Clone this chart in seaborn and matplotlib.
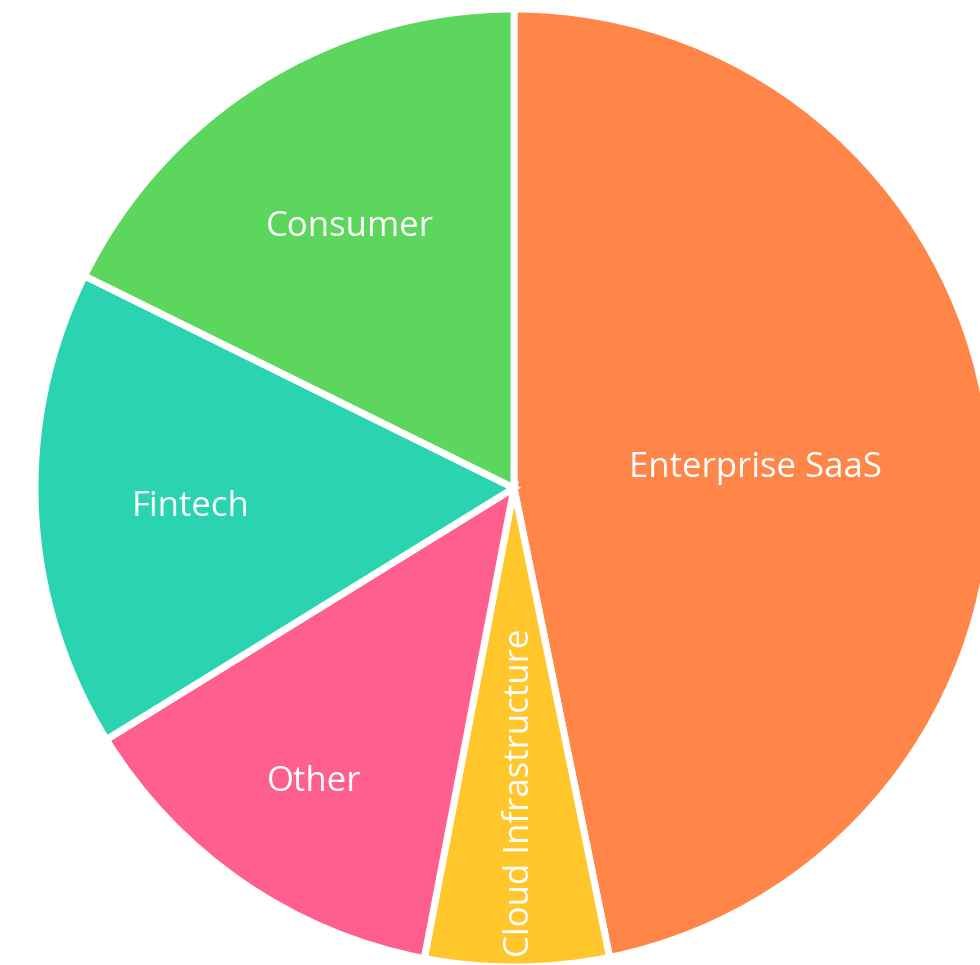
import numpy as np
import seaborn as sns
import matplotlib.pyplot as plt

# Sector data (clockwise from 12 o'clock)
sectors = ["Enterprise SaaS", "Cloud Infrastructure", "Other", "Fintech", "Consumer"]
shares = [46.8, 6.2, 13.2, 16.1, 17.7]
colors = ["#FF8548", "#FFC72C", "#FF5F8E", "#2AD4B0", "#5CD65C"]

# how far out (fraction of radius) each label sits along the wedge's mid angle
label_r = [0.51, 0.64, 0.74, 0.68, 0.655]
label_rot = [0, 90, 0, 0, 0]


def plot_pie():
    sns.set_theme(style="white")
    plt.rcParams["font.family"] = ["Open Sans", "DejaVu Sans"]

    fig = plt.figure(figsize=(9.8, 9.65), dpi=100)
    ax = fig.add_axes([0, 0, 1, 1])

    cx, cy, r = 514, 965 - 488, 479
    explode = [0.02, 0, 0, 0, 0]
    wedges, _ = ax.pie(shares, colors=colors, startangle=90, counterclock=False,
                       center=(cx, cy), radius=r, explode=explode,
                       wedgeprops=dict(edgecolor="white", linewidth=5))

    for w, name, rf, rot in zip(wedges, sectors, label_r, label_rot):
        mid = np.deg2rad((w.theta1 + w.theta2) / 2)
        x = cx + rf * 476 * np.cos(mid)
        y = cy + rf * 476 * np.sin(mid)
        ax.text(x, y, name, color="white", fontsize=25, rotation=rot,
                ha="center", va="center_baseline", rotation_mode="anchor")

    ax.set_xlim(0, 980)
    ax.set_ylim(0, 965)
    ax.set_aspect("equal")
    ax.axis("off")
    fig.savefig("out.png", dpi=100, facecolor="white")
    plt.close(fig)


if __name__ == "__main__":
    plot_pie()
